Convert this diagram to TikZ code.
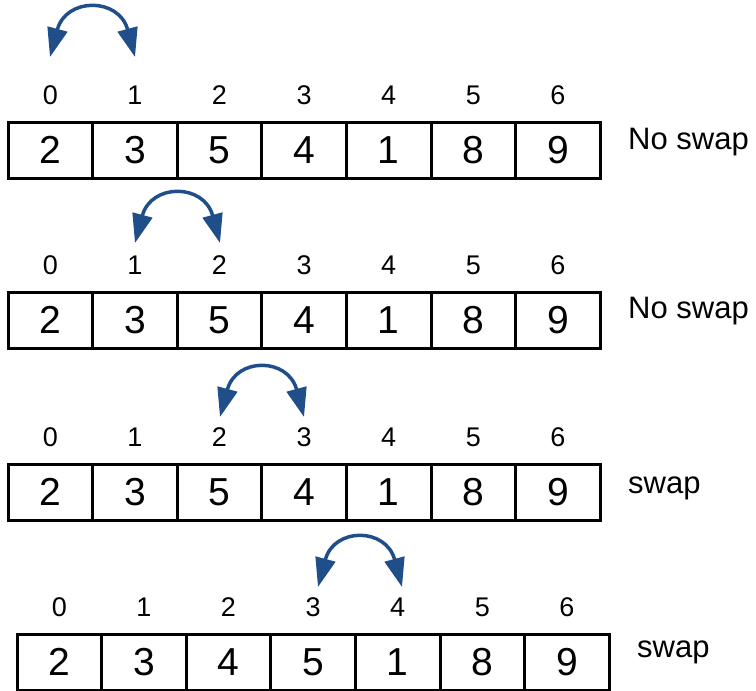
\documentclass[tikz,border=0pt]{standalone}
\usepackage{fontspec}
\setmainfont{Liberation Sans}
\usepackage{tikz}
\usetikzlibrary{arrows.meta}
\definecolor{bleufonce}{HTML}{1F4E89}
\tikzset{arraycell/.style={
    draw=black,
    line width=3pt,
    minimum width=84.6pt,
    minimum height=56pt,
    inner sep=0pt,
    font=\fontsize{39}{39}\selectfont}}
\tikzset{arrayindex/.style={
    anchor=base,
    inner sep=0pt,
    font=\fontsize{27}{27}\selectfont}}
\tikzset{swaparrow/.style={
    draw=bleufonce,
    line width=3.5pt,
    >={Triangle[length=29pt,width=20pt]},
    <->}}
\tikzset{swaplabel/.style={
    anchor=base west,
    inner sep=0pt,
    font=\fontsize{31}{31}\selectfont}}

\begin{document}
\begin{tikzpicture}[x=1pt,y=1pt]
\useasboundingbox (0,0) rectangle (756,-691);

\foreach \rang/\yc/\xg/\valeurs in {1/150/8/{2,3,5,4,1,8,9},
    2/320/8/{2,3,5,4,1,8,9},
    3/492/8/{2,3,5,4,1,8,9},
    4/662/17/{2,3,4,5,1,8,9}}{
  \foreach \v [count=\i from 0] in \valeurs {
    \node[arraycell] (r\rang c\i) at ({\xg+84.6*(\i+0.5)},-\yc) {\v};
    \node[arrayindex] (r\rang l\i) at ({\xg+84.6*(\i+0.5)},{-\yc+46}) {\i};
  }
}

\node[swaplabel] (etat1) at (628,-149) {No swap};
\node[swaplabel] (etat2) at (628,-318) {No swap};
\node[swaplabel] (etat3) at (628,-493) {swap};
\node[swaplabel] (etat4) at (637,-657) {swap};

\coordinate (f1a) at (50,-57);
\coordinate (f1b) at (135,-57);
\coordinate (f2a) at (135,-243);
\coordinate (f2b) at (220,-243);
\coordinate (f3a) at (220,-417);
\coordinate (f3b) at (304,-417);
\coordinate (f4a) at (318,-587);
\coordinate (f4b) at (402,-587);

\draw[swaparrow] (f1a) .. controls +(75:62) and +(105:62) .. (f1b);
\draw[swaparrow] (f2a) .. controls +(75:62) and +(105:62) .. (f2b);
\draw[swaparrow] (f3a) .. controls +(75:62) and +(105:62) .. (f3b);
\draw[swaparrow] (f4a) .. controls +(75:62) and +(105:62) .. (f4b);
\end{tikzpicture}
\end{document}
